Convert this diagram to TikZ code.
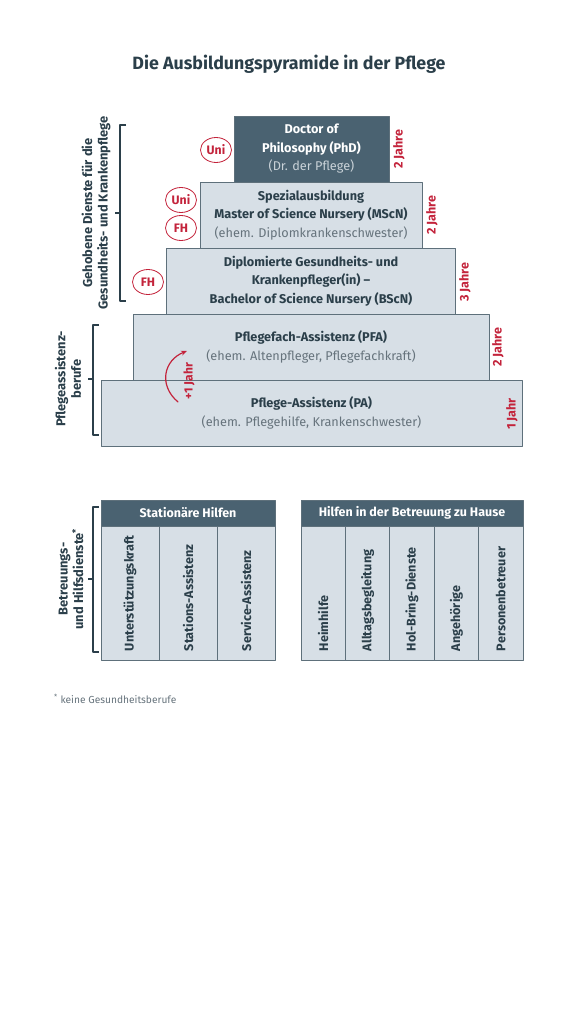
\documentclass[tikz,border=0pt]{standalone}
\usepackage{fontspec}
\setmainfont{Fira Sans}
\usetikzlibrary{arrows.meta,shapes.geometric}

\definecolor{pdark}{HTML}{4A6271}
\definecolor{plight}{HTML}{D7DFE6}
\definecolor{pline}{HTML}{5E707B}
\definecolor{ptext}{HTML}{2B3F4A}
\definecolor{pgray}{HTML}{66737C}
\definecolor{pfaint}{HTML}{C9D2D8}
\definecolor{pred}{HTML}{C3233B}

\newcommand{\formerly}[2][pgray]{{\mdseries\color{#1}#2}}

\begin{document}
\begin{tikzpicture}[x=1pt,y=-1pt,line cap=round,line join=round,
  level/.style={draw=pline,line width=0.8pt,fill=plight,inner sep=0pt,
    align=center,text=ptext,font=\fontsize{12.7}{18.5}\selectfont\bfseries},
  years/.style={rotate=90,text=pred,font=\fontsize{12.5}{14}\selectfont\bfseries,inner sep=0pt},
  school/.style={ellipse,draw=pred,line width=0.8pt,text=pred,minimum width=31,
    minimum height=25,inner sep=0pt,font=\fontsize{12.3}{14}\selectfont\bfseries},
  bracket/.style={draw=ptext,line width=1.3pt,line cap=butt},
  grouplabel/.style={rotate=90,align=center,text=ptext,inner sep=0pt,
    font=\fontsize{12.9}{15.5}\selectfont\bfseries},
  head/.style={draw=pline,line width=0.8pt,fill=pdark,text=white,inner sep=0pt,
    minimum height=26,font=\fontsize{12.5}{14}\selectfont\bfseries},
  column/.style={draw=pline,line width=0.8pt,fill=plight,rotate=90,inner xsep=9pt,
    inner ysep=0pt,minimum width=134,minimum height=#1,text width=116,align=left,
    text=ptext,font=\fontsize{12.6}{14}\selectfont\bfseries}]
  \useasboundingbox (0,0) rectangle (578,1024);

  % title
  \node[text=ptext,font=\fontsize{17.8}{20}\selectfont\bfseries] (title) at (289,64)
    {Die Ausbildungspyramide in der Pflege};

  % pyramid, from the bottom up
  \node[level,minimum width=421,minimum height=66] (pa) at (311.5,413)
    {Pflege-Assistenz (PA)\\\formerly{(ehem. Pflegehilfe, Krankenschwester)}};
  \node[level,minimum width=356,minimum height=66] (pfa) at (311,347)
    {Pflegefach-Assistenz (PFA)\\\formerly{(ehem. Altenpfleger, Pflegefachkraft)}};
  \node[level,minimum width=289,minimum height=66] (bscn) at (311,281)
    {Diplomierte Gesundheits- und\\Krankenpfleger(in) --\\Bachelor of Science Nursery (BScN)};
  \node[level,minimum width=222,minimum height=66] (mscn) at (311,215)
    {Spezialausbildung\\Master of Science Nursery (MScN)\\\formerly{(ehem. Diplomkrankenschwester)}};
  \node[level,fill=pdark,text=white,minimum width=155,minimum height=66] (phd) at (311.5,149)
    {Doctor of\\Philosophy (PhD)\\\formerly[pfaint]{(Dr. der Pflege)}};

  % duration of each level
  \node[years] (yphd) at (399,149) {2 Jahre};
  \node[years] (ymscn) at (432,215) {2 Jahre};
  \node[years] (ybscn) at (465,282) {3 Jahre};
  \node[years] (ypfa) at (498,347) {2 Jahre};
  \node[years] (ypa) at (512,414) {1 Jahr};

  % where it is taught
  \node[school] (uni1) at (216,150) {Uni};
  \node[school] (uni2) at (181,200) {Uni};
  \node[school] (fh1) at (181,228) {FH};
  \node[school] (fh2) at (148,282) {FH};

  % PA -> PFA
  \coordinate (jstart) at (178,402);
  \coordinate (jend) at (187,351);
  \draw[pred,line width=1.2pt,-{Stealth[length=6pt,width=5pt]}] (jstart)
    .. controls (158,385) and (164,360) .. (jend);
  \node[years,font=\fontsize{12}{14}\selectfont\bfseries] (plus) at (189,381) {+1 Jahr};

  % groups on the left
  \draw[bracket] (126,125) -- (120,125) -- (120,301) -- (126,301);
  \draw[bracket] (120,213) -- (115,213);
  \node[grouplabel] (gehoben) at (96,213)
    {Gehobene Dienste für die\\Gesundheits- und Krankenpflege};

  \draw[bracket] (99,325) -- (93,325) -- (93,435) -- (99,435);
  \draw[bracket] (93,379) -- (88,379);
  \node[grouplabel] (assistenz) at (68,379) {Pflegeassistenz-\\berufe};

  \draw[bracket] (99,507) -- (93,507) -- (93,652) -- (99,652);
  \draw[bracket] (93,579) -- (88,579);
  \node[grouplabel] (betreuung) at (71,579) {Betreuungs-\\und Hilfsdienste\textsuperscript{*}};

  % tables
  \foreach \name/\x/\txt in {kraft/130/Unterstützungskraft,station/188/Stations-Assistenz,
      service/246/Service-Assistenz}
    \node[column=58] (\name) at (\x,593) {\mbox{\txt}};
  \node[head,minimum width=174] (stationaer) at (188,513) {Stationäre Hilfen};

  \foreach \name/\x/\txt in {heim/323.2/Heimhilfe,alltag/367.6/Alltagsbegleitung,
      holbring/412/Hol-Bring-Dienste,angeh/456.4/Angehörige,personen/500.8/Personenbetreuer}
    \node[column=44.4] (\name) at (\x,593) {\mbox{\txt}};
  \node[head,minimum width=222] (zuhause) at (412,513) {Hilfen in der Betreuung zu Hause};

  % footnote
  \node[anchor=west,text=pgray,font=\fontsize{10.2}{12}\selectfont,inner sep=0pt] (note)
    at (54,699) {\textsuperscript{*} keine Gesundheitsberufe};
\end{tikzpicture}
\end{document}
